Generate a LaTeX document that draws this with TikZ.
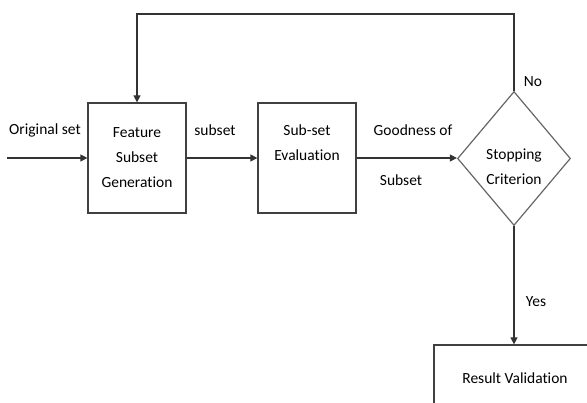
\documentclass[tikz,border=0pt]{standalone}
\usepackage{fontspec}
\setmainfont{Carlito}[Ligatures=NoCommon]
\usetikzlibrary{shapes.geometric}
\usetikzlibrary{arrows.meta}
\tikzset{myBox/.style={draw=black!75, line width=1.2pt, minimum width=98pt, minimum height=110pt, inner sep=0pt, align=center}}
\tikzset{myDiamond/.style={draw=black!60, line width=1.2pt, diamond, minimum width=113pt, minimum height=134pt, inner sep=0pt}}
\tikzset{myArrow/.style={draw=black!80, line width=1.2pt, -{Triangle[length=7pt,width=7pt]}}}
\tikzset{myText/.style={inner sep=0pt, align=center, font=\fontsize{15.5}{25}\selectfont}}

\begin{document}
\begin{tikzpicture}[x=1pt, y=1pt, font=\fontsize{15.5}{25}\selectfont]

\useasboundingbox (0,0) rectangle (587,403);
\clip (0,0) rectangle (587,403);

\node[myBox] (gen) at (137, 245) {Feature\\Subset\\Generation};
\node[myBox] (eval) at (307, 245) {};
\node[myText] (evaltxt) at (307, 260) {Sub-set\\Evaluation};
\node[myDiamond] (crit) at (514, 244.5) {};
\node[myText] (crittxt) at (514, 236) {Stopping\\Criterion};
\node[myBox, minimum width=162pt, minimum height=66pt] (valid) at (515, 25) {Result Validation};

\coordinate (start) at (7, 245);
\coordinate (fb) at (137, 389);

\draw[myArrow] (start) -- (gen.west);
\draw[myArrow] (gen.east) -- (eval.west);
\draw[myArrow] (eval.east) -- (eval.east -| crit.west);
\draw[myArrow] (crit.north) |- (fb) -- (gen.north);
\draw[myArrow] (crit.south) -- (valid.north -| crit.south);

\node[myText] (orig) at (45, 273) {Original set};
\node[myText] (sub) at (215, 273) {subset};
\node[myText] (good) at (413, 273) {Goodness of};
\node[myText] (goodsub) at (401, 223) {Subset};
\node[myText] (no) at (533, 321) {No};
\node[myText] (yes) at (536, 101) {Yes};

\end{tikzpicture}
\end{document}
